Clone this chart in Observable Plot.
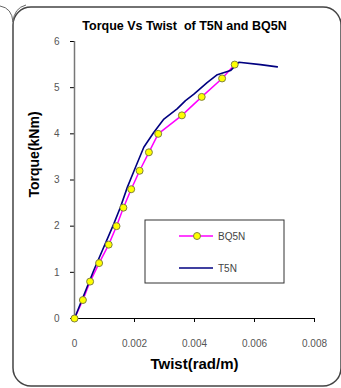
<!DOCTYPE html>
<html>
<head>
<meta charset="utf-8">
<script src="https://cdn.jsdelivr.net/npm/d3@7"></script>
<script src="https://cdn.jsdelivr.net/npm/@observablehq/plot@0.6"></script>
<style>
  html, body { margin: 0; padding: 0; background: #fff; }
  #wrap { position: relative; width: 341px; height: 388px; overflow: hidden; }
  #wrap svg { position: absolute; left: 0; top: 0; }
</style>
</head>
<body>
<div id="wrap"></div>
<script>
const titleText = "Torque Vs Twist  of T5N and BQ5N";
const xLabel = "Twist(rad/m)";
const yLabel = "Torque(kNm)";

const bqTwist  = [0, 0.00028, 0.00052, 0.00082, 0.00114, 0.0014, 0.00163, 0.00189, 0.00217, 0.00248, 0.00279, 0.00358, 0.00424, 0.00492, 0.00534];
const bqTorque = [0, 0.4, 0.8, 1.2, 1.6, 2.0, 2.4, 2.8, 3.2, 3.6, 4.0, 4.4, 4.8, 5.2, 5.5];

const tTwist  = [0, 0.00064, 0.00131, 0.00153, 0.00176, 0.00203, 0.00231, 0.00264, 0.00298, 0.00342, 0.0037, 0.00398, 0.00442, 0.00476, 0.0052, 0.00548, 0.0062, 0.00676];
const tTorque = [0, 1.04, 2.05, 2.41, 2.84, 3.27, 3.71, 4.03, 4.32, 4.54, 4.72, 4.86, 5.11, 5.28, 5.37, 5.55, 5.50, 5.45];

const xTicks = [0, 0.002, 0.004, 0.006, 0.008];
const yTicks = [0, 1, 2, 3, 4, 5, 6];

const bq = bqTwist.map((x, i) => ({x, y: bqTorque[i]}));
const t5 = tTwist.map((x, i) => ({x, y: tTorque[i]}));

const font = "'Liberation Sans', Arial, sans-serif";

const chart = Plot.plot({
  width: 341,
  height: 388,
  marginLeft: 74,
  marginRight: 27,
  marginTop: 41,
  marginBottom: 70,
  style: {fontFamily: font, background: "transparent"},
  x: {domain: [0, 0.008], label: null},
  y: {domain: [0, 6], label: null},
  marks: [
    Plot.axisY(yTicks, {label: null, tickSize: 4, tickPadding: 11, fontSize: 10, fill: "#555", stroke: "#000", tickFormat: d => String(d)}),
    Plot.axisX(xTicks, {label: null, tickSize: 4, tickPadding: 17, fontSize: 10, fill: "#555", stroke: "#000", tickFormat: d => d === 0 ? "0" : String(d)}),
    Plot.ruleX([0], {stroke: "#777", strokeWidth: 1.5}),
    Plot.ruleY([0], {stroke: "#000", strokeWidth: 1.2}),
    Plot.line(bq, {x: "x", y: "y", stroke: "#ff00ff", strokeWidth: 1.5}),
    Plot.line(t5, {x: "x", y: "y", stroke: "#000080", strokeWidth: 1.6}),
    Plot.dot(bq, {x: "x", y: "y", r: 3.5, fill: "#ffff00", stroke: "#808040", strokeWidth: 1}),
    Plot.text([titleText], {frameAnchor: "top", dx: -10, dy: -12, lineAnchor: "bottom", fontSize: 12.5, fontWeight: "bold", fill: "#000", letterSpacing: "0.4px"}),
    Plot.text([xLabel], {frameAnchor: "bottom", dy: 46, lineAnchor: "middle", fontSize: 15, fontWeight: "bold", fill: "#000", letterSpacing: "1.5px"}),
    Plot.text([yLabel], {frameAnchor: "left", dx: -40, dy: 17.5, rotate: -90, lineAnchor: "middle", fontSize: 14, fontWeight: "bold", fill: "#000", letterSpacing: "1.5px"})
  ]
});

const svg = d3.select(chart);
// rounded outer frame
svg.insert("rect", ":first-child")
  .attr("x", 13).attr("y", 7).attr("width", 328).attr("height", 379)
  .attr("rx", 18).attr("ry", 18)
  .attr("fill", "none").attr("stroke", "#444").attr("stroke-width", 1.5);
svg.append("path").attr("d", "M0,6 Q12,8 13,22 M26,5 Q14,8 13,22")
  .attr("fill", "none").attr("stroke", "#666").attr("stroke-width", 1);

// legend
const lg = svg.append("g").attr("text-anchor", "start");
lg.append("rect").attr("x", 145).attr("y", 220).attr("width", 139).attr("height", 63)
  .attr("fill", "#fff").attr("stroke", "#333").attr("stroke-width", 1);
lg.append("line").attr("x1", 179).attr("x2", 213).attr("y1", 236).attr("y2", 236)
  .attr("stroke", "#ff00ff").attr("stroke-width", 1.5);
lg.append("circle").attr("cx", 197).attr("cy", 236).attr("r", 3.5)
  .attr("fill", "#ffff00").attr("stroke", "#808040");
lg.append("text").attr("x", 218).attr("y", 236).attr("dy", "0.35em").attr("text-anchor", "start")
  .attr("font-size", 10).attr("fill", "#444").attr("font-family", font).text("BQ5N");
lg.append("line").attr("x1", 179).attr("x2", 213).attr("y1", 268).attr("y2", 268)
  .attr("stroke", "#000080").attr("stroke-width", 1.6);
lg.append("text").attr("x", 218).attr("y", 268).attr("dy", "0.35em").attr("text-anchor", "start")
  .attr("font-size", 10).attr("fill", "#444").attr("font-family", font).text("T5N");

document.getElementById("wrap").appendChild(chart);
</script>
</body>
</html>
